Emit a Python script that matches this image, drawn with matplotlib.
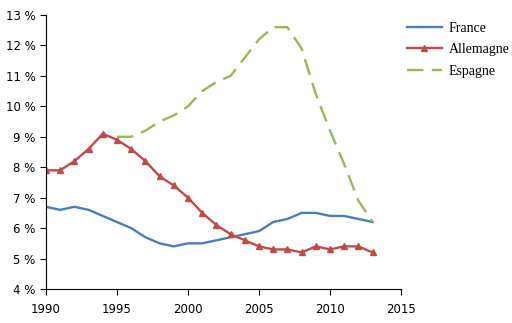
import matplotlib
matplotlib.use("Agg")
import matplotlib.pyplot as plt

plt.rcParams["font.family"] = ["DejaVu Sans"]

# data (percent)
years = list(range(1990, 2014))
france = [6.7, 6.6, 6.7, 6.6, 6.4, 6.2, 6.0, 5.7, 5.5, 5.4, 5.5, 5.5,
          5.6, 5.7, 5.8, 5.9, 6.2, 6.3, 6.5, 6.5, 6.4, 6.4, 6.3, 6.2]
allemagne = [7.9, 7.9, 8.2, 8.6, 9.1, 8.9, 8.6, 8.2, 7.7, 7.4, 7.0, 6.5,
             6.1, 5.8, 5.6, 5.4, 5.3, 5.3, 5.2, 5.4, 5.3, 5.4, 5.4, 5.2]
years_es = list(range(1995, 2014))
espagne = [9.0, 9.0, 9.2, 9.5, 9.7, 10.0, 10.5, 10.8, 11.0, 11.6, 12.2,
           12.6, 12.6, 11.9, 10.4, 9.2, 8.1, 6.9, 6.2]

xticks = [1990, 1995, 2000, 2005, 2010, 2015]
yticks = list(range(4, 14))

fig = plt.figure(figsize=(5.12, 3.23), dpi=100)
ax = fig.add_axes([46/512, 1 - 289/323, (401-46)/512, (289-15)/323])

ax.plot(years, france, color="#4A7EBB", lw=1.7, label="France")
ax.plot(years, allemagne, color="#BE4B48", lw=1.7, marker="^", ms=5,
        label="Allemagne")
ax.plot(years_es, espagne, color="#98B954", lw=1.7, dashes=(7, 3.5),
        label="Espagne")

ax.set_xlim(1990, 2015)
ax.set_ylim(4, 13)
ax.set_xticks(xticks)
ax.set_yticks(yticks)
ax.set_yticklabels([f"{v} %" for v in yticks])
for s in ["top", "right"]:
    ax.spines[s].set_visible(False)
ax.tick_params(direction="out", length=4, labelsize=8.5)
ax.tick_params(axis="x", pad=6)

leg = ax.legend(loc="upper left", bbox_to_anchor=(407/512, 1 - 22/323),
                bbox_transform=fig.transFigure, frameon=False,
                borderpad=0, borderaxespad=0,
                prop={"family": "Liberation Serif", "size": 10},
                handlelength=2.5, labelspacing=0.6, handletextpad=0.5)

fig.savefig("out.png", dpi=100)
